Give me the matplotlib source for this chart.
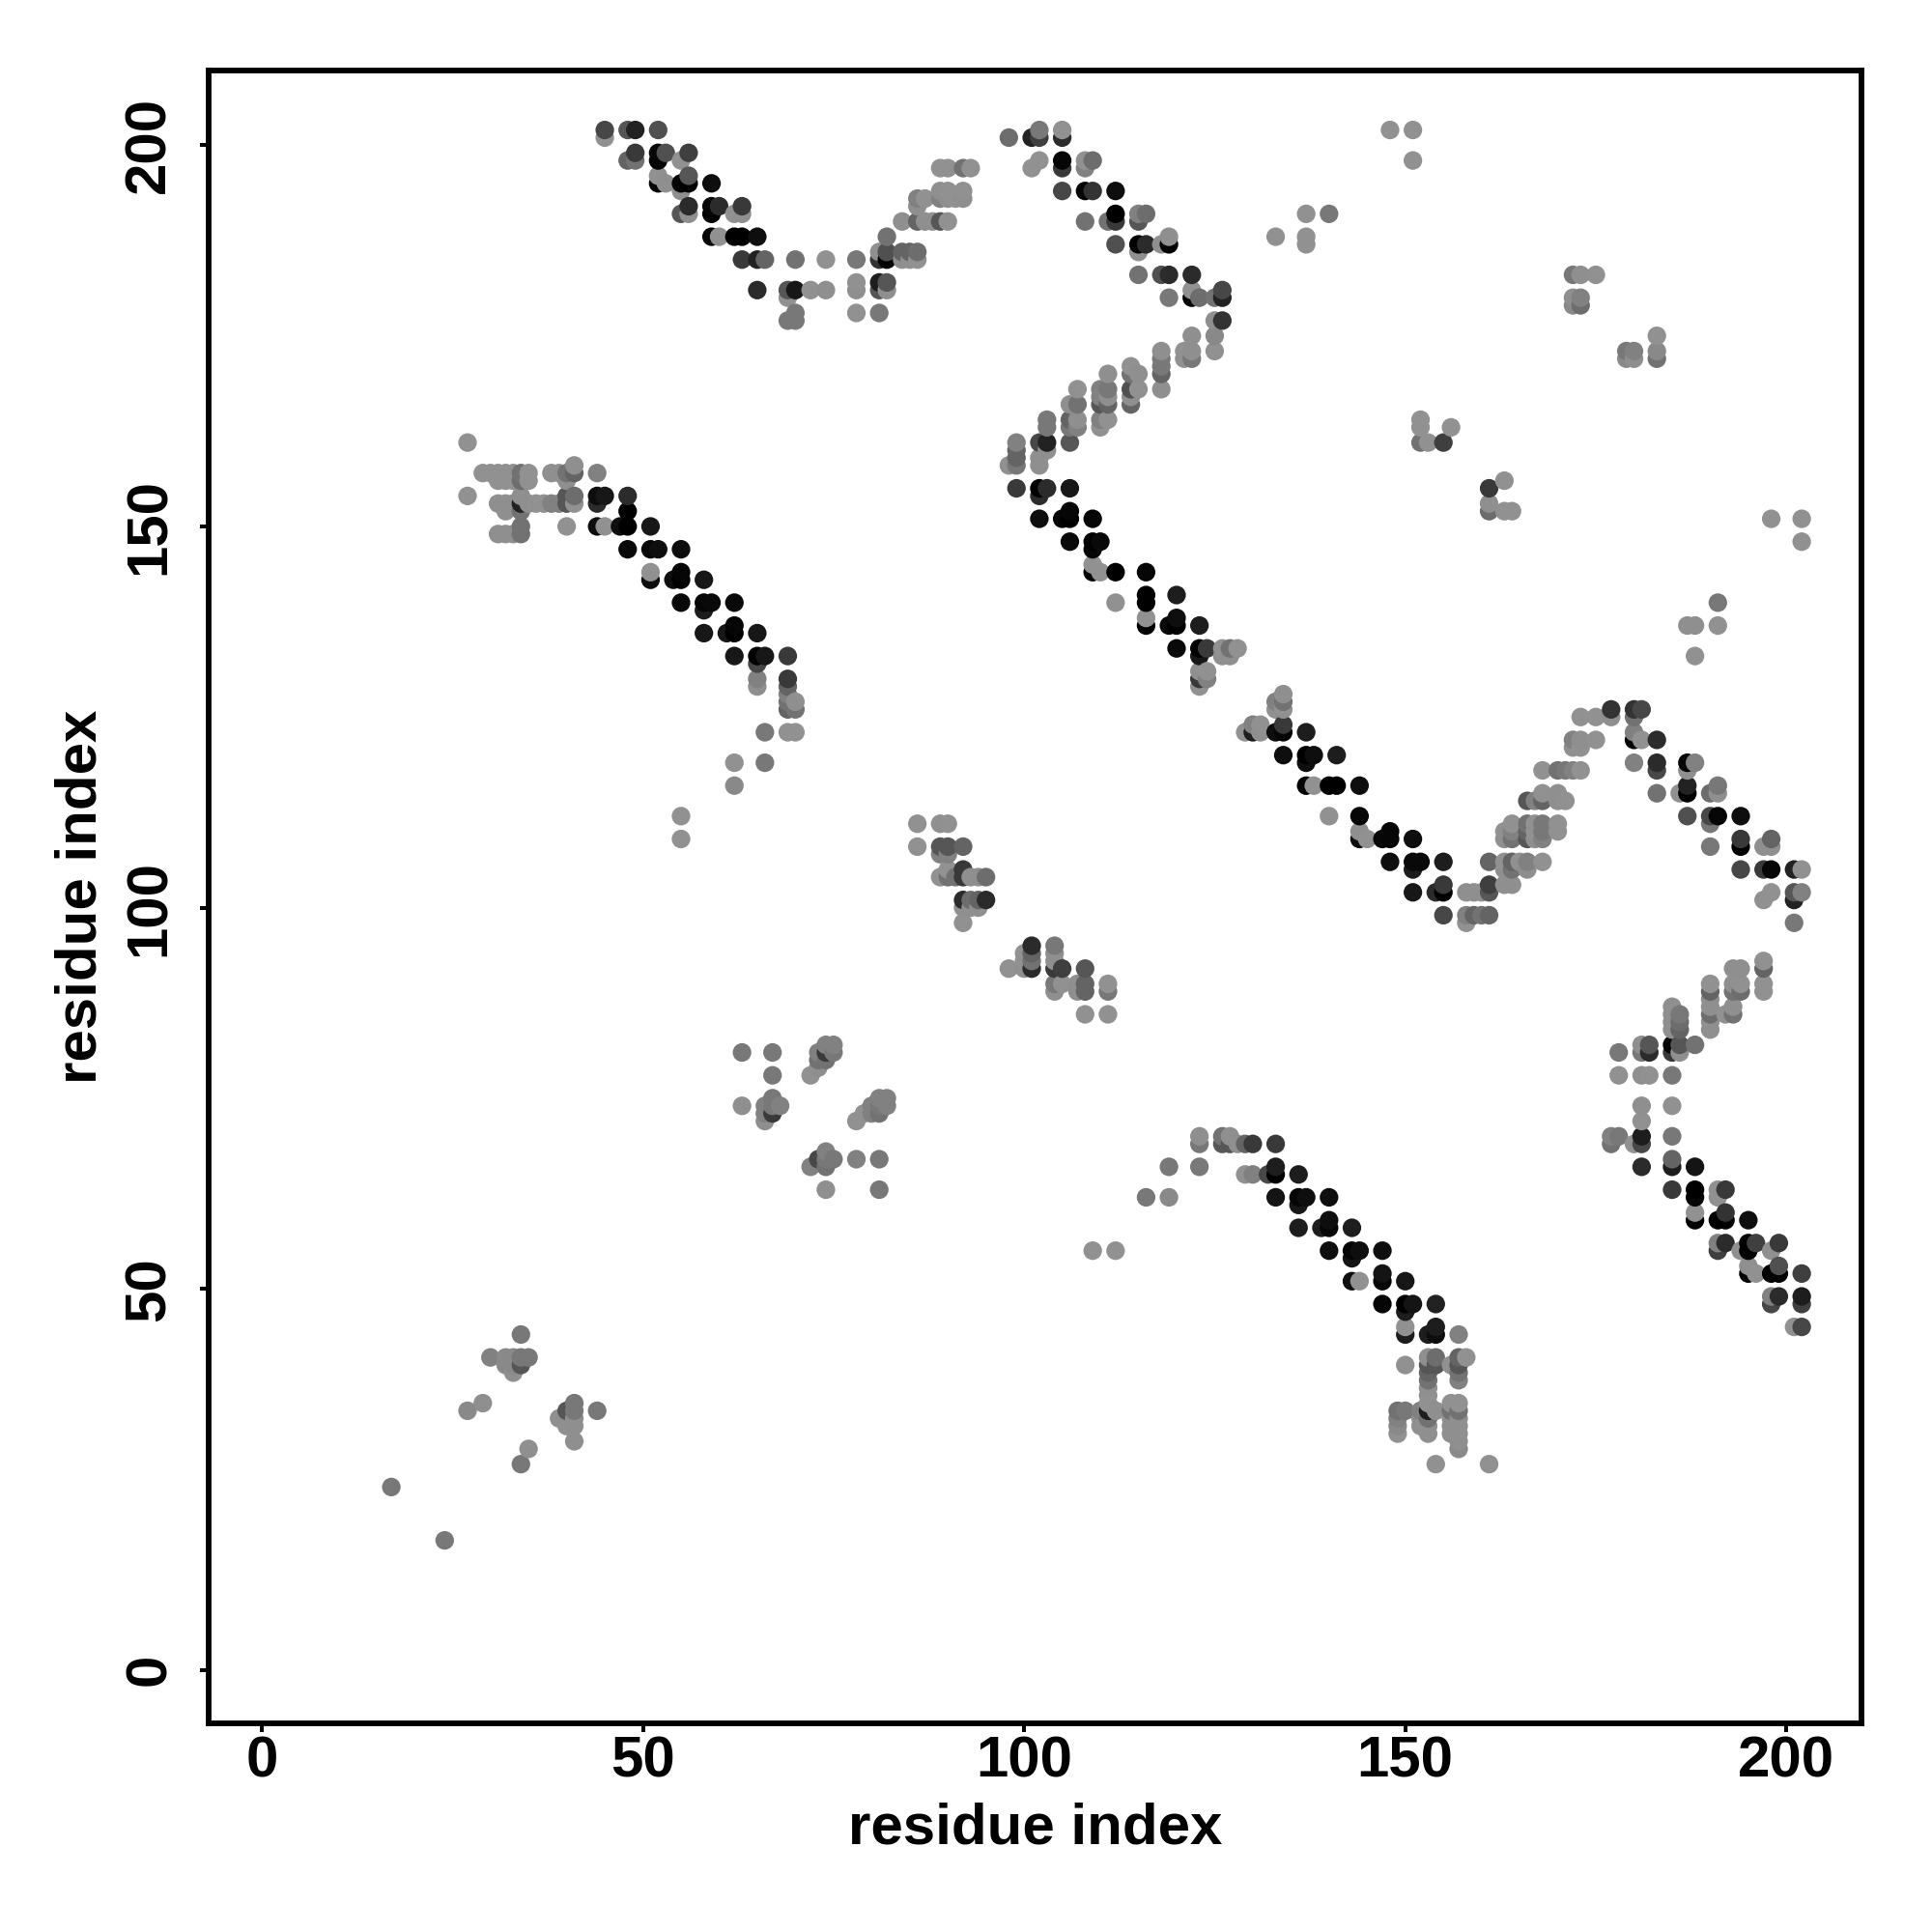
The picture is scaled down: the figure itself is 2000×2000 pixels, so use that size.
import numpy as np
import matplotlib
matplotlib.use("Agg")
from matplotlib import pyplot as plt

plt.rcParams['font.family'] = ['Liberation Sans', 'DejaVu Sans']

# every block: row y values, residues x on each row, grey level of each contact
top_left_y = [202, 201, 199, 198, 196, 195, 194, 192, 191, 188, 186, 185, 182, 181, 180, 178, 177]
top_left_x = [
    [45, 48, 49, 52], [45], [49, 52, 53, 56], [48, 49, 52, 55], [52, 56], [52, 53, 55, 56, 59], [55],
    [56, 59, 60, 63], [55, 56, 59, 62, 63], [59, 60, 62, 63, 65], [81, 82, 84, 85, 86],
    [63, 65, 66, 70, 74, 78, 81, 82, 84, 85, 86], [78, 81, 82], [65, 69, 70, 72, 74, 78, 81, 82], [69],
    [70, 78, 81], [69, 70]]
top_left_g = [
    [.25, .3, .12, .28], [.55], [.2, .02, .28, .22], [.35, .4, .02, .55], [.55, .3], [0, .5, .02, 0, .05], [.5],
    [.15, .02, .15, .2], [.3, .5, 0, .55, .5], [.02, .55, 0, 0, .05], [.5, .28, .35, .35, .38],
    [.2, .12, .35, .4, .55, .42, .18, 0, .5, .5, .52], [.55, .1, .3], [.15, .3, .08, .55, .5, .5, .3, .5], [.55],
    [.42, .55, .42], [.42, .42]]

hairpin_y = [197, 194, 193, 192, 190, 188]
hairpin_x = [[89, 90, 92, 93], [89, 90, 92], [86, 87, 89, 90, 91, 92], [86], [84, 86, 87, 88, 89, 90], [82]]
hairpin_g = [[.55, .55, .4, .55], [.5, .55, .55], [.45, .55, .45, .5, .55, .5], [.5],
             [.5, .35, .5, .5, .3, .55], [.4]]

top_mid_y = [202, 201, 198, 197, 194, 191, 190, 188, 187, 186, 183, 181, 180, 177, 175, 173, 172, 171, 170,
             168, 167, 166, 164, 163, 161, 160, 159, 158]
top_mid_x = [
    [102, 105], [98, 101, 102, 105], [102, 105, 108, 109], [101, 105, 108], [105, 108, 109, 112],
    [112, 115, 116], [108, 111, 112, 115], [119], [112, 115, 116, 118, 119], [115], [115, 118, 119, 122],
    [122, 126], [119, 122, 123, 125, 126], [125, 126], [122, 125], [118, 121, 122, 125], [118, 121, 122],
    [114, 118], [111, 114, 115, 118], [107, 110, 111, 114, 115, 118], [110, 111, 114],
    [106, 107, 110, 111, 114], [103, 106, 107, 110, 111], [103, 106, 107, 110], [99, 102, 103, 106],
    [99, 103], [99, 102], [98, 99, 102]]
top_mid_g = [
    [.42, .55], [.38, .12, .22, .15], [.55, .02, .52, .38], [.55, .2, .45], [.25, .02, .18, .05],
    [0, .45, .38], [.4, .4, .2, .3], [.5], [.28, 0, .15, .5, 0], [.5], [.4, .28, .15, .15],
    [.55, .25], [.42, 0, .38, .4, .12], [.5, .18], [.5, .48], [.5, .55, .5, .55], [.42, .55, .42],
    [.55, .42], [.5, .4, .5, .35], [.55, .45, .42, .28, .55, .5], [.45, .5, .5],
    [.5, .4, .3, .35, .35], [.42, .35, .5, .45, .55], [.42, .42, .45, .52], [.45, .25, .12, .3],
    [.35, .5], [.35, .5], [.55, .42, .5]]

sparse_y = [202, 198, 191, 188, 187, 183, 180, 179, 175, 173, 172, 164, 163, 161, 156, 155, 153, 152,
            151, 148, 140, 137, 133, 112, 109, 55, 44, 24, 17]
sparse_x = [
    [148, 151], [151], [137, 140], [133, 137], [137], [172, 173, 175], [172, 173], [172, 173], [183],
    [179, 180, 183], [179, 180, 183], [152], [152, 156], [152, 153, 155], [163], [161], [161],
    [161, 163, 164], [198, 202], [202], [191], [187, 188, 191], [188], [55], [55], [109, 112], [34], [17], [24]]
sparse_g = [
    [.55, .55], [.55], [.52, .42], [.55, .55], [.55], [.42, .5, .55], [.5, .45], [.48, .38], [.55],
    [.42, .45, .48], [.48, .5, .4], [.55], [.52, .55], [.4, .55, .22], [.55], [.2], [.5],
    [.38, .55, .55], [.55, .55], [.55], [.42], [.5, .5, .52], [.55], [.55], [.55], [.55, .55], [.42], [.42], [.42]]

left_y = [161, 158, 157, 156, 154, 153, 152, 150, 149, 147, 144, 143, 140, 139, 137, 136, 133, 132, 130,
          129, 128, 127, 126, 123, 119, 116]
left_x = [
    [27], [41], [29, 30, 31, 32, 33, 34, 35, 38, 39, 40, 41, 44], [31, 32, 33, 34, 35, 40],
    [27, 34, 40, 41, 44, 45, 48], [31, 32, 33, 34, 35, 36, 37, 38, 39, 40, 41, 44], [32, 34, 48],
    [34, 40, 44, 45, 47, 48, 51], [31, 32, 33, 34], [48, 51, 52, 55], [51, 55], [51, 54, 55, 58],
    [55, 58, 59, 62], [58], [62], [58, 61, 62, 65], [62, 65, 66, 69], [65], [65, 69], [65, 69], [69],
    [69, 70], [69, 70], [66, 69, 70], [62, 66], [62]]
left_g = [
    [.55], [.5], [.55, .55, .55, .55, .55, .4, .55, .5, .5, .4, .35, .45], [.55, .55, .55, .38, .55, .5],
    [.55, .5, .3, .38, .05, .08, .15], [.5, .5, .5, .12, .5, .55, .55, .45, .45, .3, .55, .15], [.5, .4, 0],
    [.4, .55, .05, .55, .05, 0, .08], [.5, .5, .5, .4], [.03, .02, .05, .05], [.55, .02], [.05, .05, 0, .08],
    [.03, .02, .03, .03], [.1], [.02], [.08, .08, 0, .08], [.08, 0, .08, .2], [.25], [.45, .2], [.5, .35],
    [.45], [.4, .5], [.35, .4], [.42, .52, .52], [.52, .42], [.48]]

diag_y = [155, 154, 152, 151, 148, 147, 145, 144, 141, 140, 138, 137, 134, 133, 131, 130, 129, 128, 127, 126,
          124, 123, 120, 119, 116, 112, 110, 109, 106, 105, 103, 102, 99, 98]
diag_x = [
    [99, 102, 103, 106], [102], [106], [102, 105, 106, 109], [106, 109, 110], [109], [109],
    [109, 110, 112, 116], [116, 120], [112, 116], [116, 120], [116, 119, 120, 123],
    [120, 123, 124, 126, 127, 128], [123, 126, 127], [123, 124], [123, 124], [123], [134], [133, 134],
    [133, 134], [130, 131, 134], [129, 130, 131, 133, 134, 137], [134, 137, 138, 141], [137],
    [137, 138, 140, 141, 144], [140, 144], [144, 148], [144, 145, 147, 148, 151], [148, 151, 152, 155],
    [151], [155], [151, 154, 155], [155], []]
diag_g = [
    [.2, 0, .15, .08], [.15], [.02], [.05, .02, 0, .02], [.03, 0, .03], [.02], [.55],
    [0, .55, 0, .02], [0, .1], [.55, 0], [.55, .05], [0, .03, 0, .1],
    [.03, 0, .2, .55, .4, .55], [.08, .5, .5], [.5, .55], [.2, .45], [.55], [.5], [.45, .4],
    [.55, .55], [.45, .55, .2], [.55, .1, .5, .05, .02, .1], [.05, 0, .05, .1], [.05],
    [0, .55, 0, 0, .05], [.55, .02], [.5, .02], [.05, .55, .03, .02, .05], [.05, .03, .03, .1],
    [.1], [.2], [.08, .15, 0], [.25], []]

wave_y = [126, 125, 123, 122, 121, 119, 118, 116, 115, 114, 112, 111, 110, 109, 108, 106, 105, 103, 102, 101, 99, 98]
wave_x = [
    [177, 180, 181], [173, 175, 177, 180], [180], [172, 173, 175, 180, 181, 183], [172, 173],
    [180, 183, 187, 188], [168, 170, 171, 172, 173, 183, 187], [187, 191], [168, 170, 183, 186, 187, 190, 191],
    [166, 167, 168, 170, 171], [187, 190, 191, 194], [164, 166, 167, 168, 170, 190],
    [163, 164, 166, 167, 168, 170], [163, 164, 166, 167, 168, 194, 198], [190, 194, 197, 198],
    [161, 163, 164, 165, 166, 168], [163, 164, 166, 194, 197, 198, 201, 202], [161, 163, 164],
    [158, 159, 160, 161, 198, 201, 202], [197, 201], [158, 159, 160, 161], [158, 201]]
wave_g = [
    [.18, .18, .25], [.55, .52, .5, .4], [.45], [.45, .5, .52, .02, .55, .15], [.55, .55],
    [.45, .15, .02, .45], [.52, .4, .42, .45, .55, .25, .5], [.12, .42], [.55, .5, .4, .55, 0, .38, .5],
    [.3, .45, .35, .5, .55], [.28, .25, .02, .05], [.55, .4, .55, .42, .55, .42],
    [.55, .45, .35, .55, .42, .55], [.5, .4, .3, .5, .45, .2, .35], [.42, 0, .5, .5],
    [.35, .52, .35, .55, .45, .55], [.5, .4, .5, .25, .2, .02, .12, .55], [.22, .5, .5],
    [.5, .5, .5, .3, .55, .3, .45], [.52, .12], [.45, .35, .4, .35], [.55, .42]]

right_y = [93, 92, 90, 89, 88, 87, 86, 85, 84, 82, 81, 78, 74, 72, 70, 69, 67, 66, 63, 62, 60, 59, 56, 55, 53,
           52, 49, 48, 45]
right_x = [
    [197], [193, 194, 197], [190, 193, 194, 197], [190, 193, 194, 197], [190], [190, 193, 185],
    [185, 186, 190, 192, 193], [185, 186, 190], [185, 186, 190], [181, 182, 185, 186, 188],
    [178, 181, 182, 185, 186], [178, 181, 182, 185], [181, 185], [181], [177, 178, 181, 185],
    [177, 180, 181], [185], [181, 185, 188], [185, 188, 191, 192], [188, 191], [188, 192],
    [188, 191, 192, 195], [191, 192, 195, 196, 199], [191, 194, 195, 198], [195, 199],
    [195, 196, 198, 199, 202], [198, 199, 202], [198, 202], [201, 202]]
right_g = [
    [.55], [.5, .5, .35], [.52, .5, .52, .55], [.35, .4, .38, .55], [.5], [.5, .5, .5],
    [.5, .42, .38, .55, .4], [.5, .38, .5], [.5, .35, .5], [.5, .3, .02, .3, .4],
    [.42, .42, .15, .2, .5], [.55, .5, .55, .42], [.5, .55], [.55], [.45, .42, .1, .42],
    [.4, .55, .25], [.35], [.15, .1, .07], [.2, 0, .55, .2], [.02, .55], [.55, .18],
    [0, 0, 0, .05], [.45, .15, 0, .22, .2], [.22, .55, 0, .5], [.5, .28],
    [0, .55, 0, 0, .22], [.45, .15, .1], [.25, .22], [.55, .25]]

lower_y = [70, 69, 66, 65, 62, 61, 59, 58, 55, 54, 52, 51, 48, 47, 45, 44, 41, 40, 39, 38, 37, 36, 35, 34, 33,
           32, 31, 30, 29, 27]
lower_x = [
    [123, 126, 127], [123, 126, 127, 128, 129, 130, 133], [119, 123, 133], [129, 130, 132, 133, 136],
    [116, 119, 133, 136, 137, 140], [136], [140], [136, 139, 140, 143], [140, 143, 144, 147], [143], [147],
    [143, 144, 147, 150], [147, 150, 151, 154], [150], [150, 154], [150, 153, 154, 157],
    [153, 154, 157, 158], [150, 153, 154, 156, 157], [153, 157], [153, 157], [153], [153],
    [153, 156, 157], [149, 150, 152, 153, 154, 156, 157], [149, 152, 153, 156, 157],
    [149, 152, 153, 156, 157], [149, 153, 156, 157], [157], [157], [154, 161]]
lower_g = [
    [.5, .4, .5], [.42, .3, .3, .5, .35, .2, .2], [.42, .42, .1], [.55, .45, .25, 0, .1],
    [.42, .48, .07, .02, .05, .05], [.08], [.05], [.1, .1, .02, .1], [.05, .02, .05, .05], [.07], [.07],
    [.05, .55, .02, .08], [.02, 0, .07, .12], [.1], [.55, .1], [.1, .1, .05, .45],
    [.5, .38, .35, .55], [.55, .3, .3, .55, .3], [.35, .4], [.4, .45], [.5], [.55],
    [.55, .55, .55], [.4, .42, .45, .1, .5, .4, .4], [.45, .5, .4, .5, .5],
    [.48, .5, .5, .5, .5], [.52, .5, .5, .5], [.5], [.48], [.52, .52]]

mid_y = [111, 108, 107, 105, 104, 101, 100, 98, 95, 94, 93, 92, 90, 89, 86, 82, 81, 80, 79, 78, 75, 74, 73, 72,
         68, 67, 66, 63]
mid_x = [
    [86, 89, 90], [86, 89, 90, 92], [89, 90], [90, 92], [89, 90, 91, 92, 93, 94, 95], [92, 93, 94, 95],
    [92, 93, 94], [92], [101, 104], [100, 101, 104], [100, 101, 104], [98, 100, 101, 104, 105, 108],
    [104, 105, 107, 108, 111], [104, 107, 108, 111], [108, 111], [74, 75], [63, 67, 73, 74, 75], [73, 74],
    [73], [67, 72], [67, 81, 82], [63, 66, 67, 68, 80, 81, 82], [66, 67, 79, 80, 81], [66, 78], [74],
    [73, 74, 75, 78, 81], [72, 74], [74, 81]]
mid_g = [
    [.55, .5, .55], [.55, .3, .3, .35], [.45, .45], [.55, .2], [.55, .4, .4, .2, .5, .5, .38], [.15, .38, .35, .15],
    [.5, .5, .5], [.52], [.15, .42], [.55, .35, .5], [.55, .4, .5], [.55, .5, .15, .2, .22, .3],
    [.42, .55, .5, .35, .55], [.5, .5, .35, .42], [.55, .55], [.45, .45], [.42, .42, .45, .2, .42], [.4, .4],
    [.5], [.42, .52], [.42, .45, .45], [.5, .45, .42, .45, .45, .42, .45], [.45, .2, .52, .45, .4], [.5, .55], [.45],
    [.25, .42, .42, .45, .42], [.45, .4], [.5, .42]]

far_y = [41, 40, 39, 35, 34, 33, 32, 30, 29, 27]
far_x = [[30, 32, 33, 34, 35], [32, 33, 34], [33], [29, 41], [27, 40, 41, 44], [39, 40, 41], [40, 41], [41], [35], [34]]
far_g = [[.45, .48, .48, .42, .42], [.48, .48, .3], [.5], [.5, .42], [.48, .3, .42, .42], [.5, .5, .5], [.5, .5],
         [.5], [.5], [.42]]

blocks = [(top_left_y, top_left_x, top_left_g), (hairpin_y, hairpin_x, hairpin_g), (top_mid_y, top_mid_x, top_mid_g),
          (sparse_y, sparse_x, sparse_g), (left_y, left_x, left_g), (diag_y, diag_x, diag_g),
          (wave_y, wave_x, wave_g), (right_y, right_x, right_g), (lower_y, lower_x, lower_g),
          (mid_y, mid_x, mid_g), (far_y, far_x, far_g)]

xs, ys, gs = [], [], []
for block_y, block_x, block_g in blocks:
    for row, row_x, row_g in zip(block_y, block_x, block_g):
        xs += row_x
        ys += [row] * len(row_x)
        gs += row_g
xs, ys, gs = np.array(xs), np.array(ys), np.array(gs)

# later residues sit on top of earlier ones
order = np.lexsort((ys, xs))
shade = np.clip(gs * 1.12, 0, 0.57)   # greys read a bit dark off the crops
colors = np.column_stack([shade, shade, shade])[order]

fig = plt.figure(figsize=(10, 10), dpi=200)
ax = fig.add_axes([216 / 2000, 1 - 1784 / 2000, 1711 / 2000, 1711 / 2000])
ax.scatter(xs[order], ys[order], s=48, c=colors, linewidths=0)
ax.set_xlim(-6.96, 209.84)
ax.set_ylim(-7, 209.8)

ax.set_xticks([0, 50, 100, 150, 200])
ax.set_yticks([0, 50, 100, 150, 200])
ax.tick_params(width=1.44, length=3.2, labelsize=21.6)
ax.tick_params(axis='x', pad=1.3)
ax.tick_params(axis='y', pad=8.8)
for label in ax.get_xticklabels() + ax.get_yticklabels():
    label.set_fontweight('bold')
for label in ax.get_yticklabels():
    label.set_rotation(90)
    label.set_va('center')
for spine in ax.spines.values():
    spine.set_linewidth(2.1)

ax.set_xlabel('residue index', fontsize=21.6, fontweight='bold', labelpad=5.2)
ax.set_ylabel('residue index', fontsize=21.6, fontweight='bold', labelpad=5.8)

fig.savefig('out.png', dpi=200, facecolor='white')
